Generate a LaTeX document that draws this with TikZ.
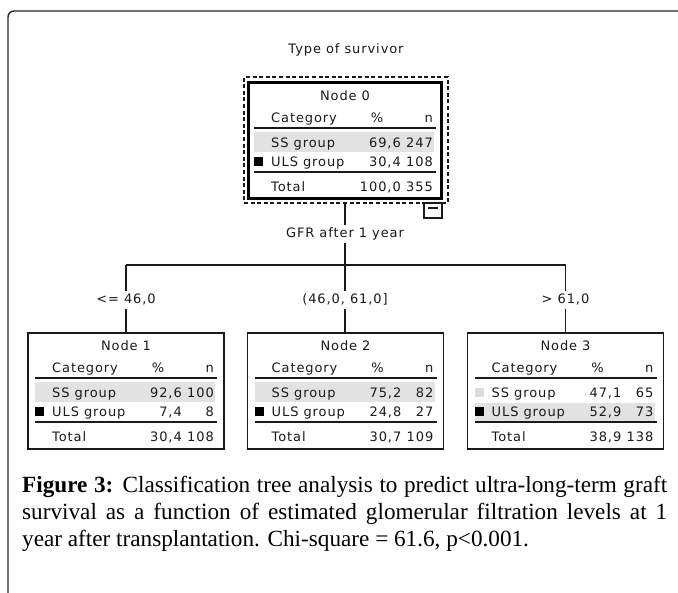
\documentclass[tikz,border=0pt]{standalone}
\usepackage{fontspec}
\setmainfont{Liberation Serif}
\newfontfamily\treefont[LetterSpace=7]{DejaVu Sans}
\usetikzlibrary{calc}

\definecolor{rowgray}{HTML}{E2E2E2}
\definecolor{ssgray}{HTML}{DCDCDC}
\definecolor{inkgray}{HTML}{1A1A1A}

\tikzset{
  treetext/.style={font=\treefont\fontsize{13}{15}\selectfont, inner sep=0pt, text=inkgray},
  splitlabel/.style={treetext, fill=white, inner sep=2.5pt, text height=9.5pt, text depth=2.5pt},
  tline/.style={line width=1.2pt, draw=inkgray},
  conn/.style={line width=1.3pt, draw=inkgray},
  leafbox/.style={draw=inkgray, line width=1.3pt, minimum width=196pt, minimum height=116pt, inner sep=0pt, outer sep=0pt},
  rootbox/.style={draw=black, line width=2.6pt, minimum width=193pt, minimum height=116pt, inner sep=0pt, outer sep=0pt},
  selbox/.style={draw=inkgray, line width=1.2pt, dash pattern=on 4pt off 2.6pt, minimum width=204pt, minimum height=126pt, inner sep=0pt, outer sep=0pt},
  rowbg/.style={fill=rowgray},
  capline/.style={anchor=base west, inner sep=0pt, font=\fontsize{23.2}{27}\selectfont},
}

% Contents of one node table: #1 anchor, #2 title, #3/#4 SS % and n,
% #5/#6 ULS % and n, #7/#8 total % and n, #9 highlighted row (1 = SS, 2 = ULS)
\newcommand\catable[9]{%
  \begin{scope}[shift={(#1)}]
    \ifnum#9=1
      \fill[rowbg] (7,49) rectangle (187,69);
    \else
      \fill[rowbg] (7,70) rectangle (187,89);
      \fill[ssgray] (7,55) rectangle (16,64);
    \fi
    \fill[black] (7,74) rectangle (16,83);
    \node[treetext, anchor=base] (#1-title) at (98,17.5) {#2};
    \node[treetext, anchor=base west] (#1-cat) at (24,39.5) {Category};
    \node[treetext, anchor=base] (#1-pct) at (130,39.5) {\%};
    \node[treetext, anchor=base east] (#1-n) at (186,39.5) {n};
    \draw[tline] (7,45) -- (189,45);
    \node[treetext, anchor=base west] (#1-ss) at (24,64.5) {SS group};
    \node[treetext, anchor=base east] (#1-ssp) at (154,64.5) {#3};
    \node[treetext, anchor=base east] (#1-ssn) at (186,64.5) {#4};
    \node[treetext, anchor=base west] (#1-uls) at (24,83.5) {ULS group};
    \node[treetext, anchor=base east] (#1-ulsp) at (154,83.5) {#5};
    \node[treetext, anchor=base east] (#1-ulsn) at (186,83.5) {#6};
    \draw[tline] (7,89) -- (189,89);
    \node[treetext, anchor=base west] (#1-tot) at (24,108.5) {Total};
    \node[treetext, anchor=base east] (#1-totp) at (154,108.5) {#7};
    \node[treetext, anchor=base east] (#1-totn) at (186,108.5) {#8};
  \end{scope}%
}

\begin{document}
\begin{tikzpicture}[x=1pt, y=-1pt]
  \useasboundingbox (0,0) rectangle (678,593);

  % page frame
  \draw[line width=1.4pt, draw=black!85, rounded corners=6pt] (8,593) -- (8,11) -- (679,11);

  % root node
  \node[treetext] (dep) at (346,50) {Type of survivor};
  \node[selbox] (n0sel) at (346,140) {};
  \node[rootbox] (n0) at (345,140.5) {};
  \coordinate (n0c) at (247,83);
  \catable{n0c}{Node 0}{69,6}{247}{30,4}{108}{100,0}{355}{1}
  \node[draw=inkgray, fill=white, line width=1.1pt, minimum width=18pt, minimum height=15pt, inner sep=0pt, outer sep=0pt] (n0btn) at (433,210.5) {};
  \draw[line width=1.1pt, draw=inkgray] ($(n0btn.center)+(-5,-2.5)$) -- ($(n0btn.center)+(5,-2.5)$);

  % leaf nodes
  \node[leafbox] (n1) at (126,391) {};
  \node[leafbox] (n2) at (345.5,391) {};
  \node[leafbox] (n3) at (565.5,391) {};
  \catable{n1.north west}{Node 1}{92,6}{100}{7,4}{8}{30,4}{108}{1}
  \catable{n2.north west}{Node 2}{75,2}{82}{24,8}{27}{30,7}{109}{1}
  \catable{n3.north west}{Node 3}{47,1}{65}{52,9}{73}{38,9}{138}{2}

  % split variable and branch labels
  \node[splitlabel] (gfr) at (345,234) {GFR after 1 year};
  \coordinate (split) at (345,265);
  \coordinate (b1) at (n1.north |- split);
  \coordinate (b3) at (n3.north |- split);
  \node[splitlabel] (l1) at (n1.north |- 0,300) {<= 46,0};
  \node[splitlabel] (l2) at (345,300) {(46,0, 61,0]};
  \node[splitlabel] (l3) at (n3.north |- 0,300) {> 61,0};

  % connectors
  \draw[conn] (n0sel.south -| gfr) -- (gfr.north);
  \draw[conn] (gfr.south) -- (split);
  \draw[conn] (b1) -- (b3);
  \draw[conn] (b1) -- (l1.north);
  \draw[conn] (l1.south) -- (n1.north);
  \draw[conn] (split) -- (l2.north);
  \draw[conn] (l2.south) -- (l2.south |- n2.north);
  \draw[conn] (b3) -- (l3.north);
  \draw[conn] (l3.south) -- (n3.north);

  % caption
  \node[capline] (cap1) at (22,493) {\makebox[645pt][s]{\textbf{Figure 3:} Classification tree analysis to predict ultra-long-term graft}};
  \node[capline] (cap2) at (22,520) {\makebox[645pt][s]{survival as a function of estimated glomerular filtration levels at 1}};
  \node[capline] (cap3) at (22,547) {year after transplantation. Chi-square = 61.6, p<0.001.};
\end{tikzpicture}
\end{document}
